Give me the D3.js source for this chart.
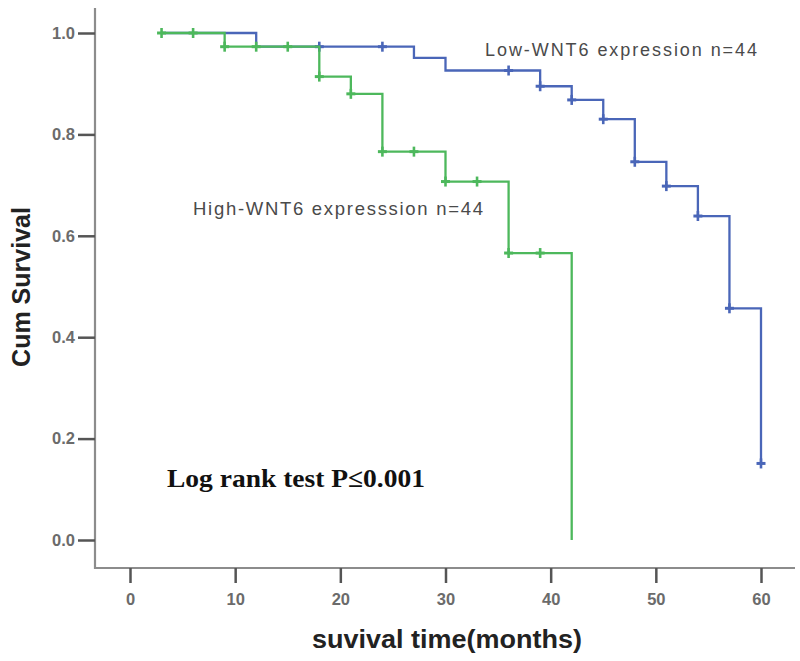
<!DOCTYPE html>
<html>
<head>
<meta charset="utf-8">
<script src="https://cdn.jsdelivr.net/npm/d3@7"></script>
<style>
  html, body { margin: 0; padding: 0; background: #fff; }
  svg { display: block; }
</style>
</head>
<body>
<svg id="chart" width="800" height="661"></svg>
<script>
// ---- data ----
const xTicks = [0, 10, 20, 30, 40, 50, 60];
const yTicks = [0.0, 0.2, 0.4, 0.6, 0.8, 1.0];

// Low-WNT6 (blue) step curve: event times and survival after each step
const lowTimes = [3, 12, 27, 30, 39, 42, 45, 48, 51, 54, 57, 60];
const lowSurv  = [1.0, 0.973, 0.951, 0.926, 0.895, 0.868, 0.830, 0.746, 0.698, 0.639, 0.457, 0.151];
// Low-WNT6 censor marks
const lowCensT = [18, 24, 36, 39, 42, 45, 48, 51, 54, 57, 60];
const lowCensS = [0.973, 0.973, 0.926, 0.895, 0.868, 0.830, 0.746, 0.698, 0.639, 0.457, 0.151];

// High-WNT6 (green) step curve
const highTimes = [3, 9, 18, 21, 24, 30, 36, 42];
const highSurv  = [1.0, 0.973, 0.914, 0.880, 0.766, 0.707, 0.566, 0.0];
// High-WNT6 censor marks
const highCensT = [3, 6, 9, 12, 15, 18, 21, 24, 27, 30, 33, 36, 39];
const highCensS = [1.0, 1.0, 0.973, 0.973, 0.973, 0.914, 0.880, 0.766, 0.766, 0.707, 0.707, 0.566, 0.566];

const lowLabel  = "Low-WNT6 expression n=44";
const highLabel = "High-WNT6 expresssion n=44";
const pLabel    = "Log rank test P\u22640.001";
const xTitle    = "suvival time(months)";
const yTitle    = "Cum Survival";

// ---- layout ----
const svg = d3.select("#chart");
const x = d3.scaleLinear().domain([0, 60]).range([130, 761]);
const y = d3.scaleLinear().domain([0, 1]).range([540, 33]);
const axisX0 = 95, axisY0 = 568;

const BLUE = "#4a66b8", GREEN = "#4db85c";

// axes lines
svg.append("line").attr("x1", axisX0).attr("x2", axisX0).attr("y1", 8).attr("y2", axisY0 + 1)
  .attr("stroke", "#8c8c8c").attr("stroke-width", 2.2);
svg.append("line").attr("x1", axisX0 - 1).attr("x2", 795).attr("y1", axisY0).attr("y2", axisY0)
  .attr("stroke", "#8c8c8c").attr("stroke-width", 2.2);

// y axis
const gy = svg.append("g").attr("transform", `translate(${axisX0},0)`)
  .call(d3.axisLeft(y).tickValues(yTicks).tickFormat(d3.format(".1f")).tickSize(17).tickPadding(3));
gy.select(".domain").remove();
gy.selectAll(".tick line").attr("stroke", "#555").attr("stroke-width", 2.5);
gy.selectAll(".tick text").attr("fill", "#6b6b6b").attr("font-family", "Liberation Sans, Arial, sans-serif")
  .attr("font-size", 16.5).attr("font-weight", "bold");

// x axis
const gx = svg.append("g").attr("transform", `translate(0,${axisY0})`)
  .call(d3.axisBottom(x).tickValues(xTicks).tickSize(15).tickPadding(10));
gx.select(".domain").remove();
gx.selectAll(".tick line").attr("stroke", "#555").attr("stroke-width", 2.5);
gx.selectAll(".tick text").attr("fill", "#6b6b6b").attr("font-family", "Liberation Sans, Arial, sans-serif")
  .attr("font-size", 16.5).attr("font-weight", "bold");

// titles
svg.append("text").attr("transform", "translate(30,287) rotate(-90)")
  .attr("text-anchor", "middle").attr("font-family", "Liberation Sans, Arial, sans-serif")
  .attr("font-weight", "bold").attr("font-size", 25).attr("fill", "#222").text(yTitle);
svg.append("text").attr("x", 447).attr("y", 648)
  .attr("text-anchor", "middle").attr("font-family", "Liberation Sans, Arial, sans-serif")
  .attr("font-weight", "bold").attr("font-size", 26).attr("fill", "#222")
  .attr("textLength", 270).attr("lengthAdjust", "spacingAndGlyphs").text(xTitle);

// curves
const line = d3.line().x(d => x(d[0])).y(d => y(d[1])).curve(d3.curveStepAfter);
const lowPts = lowTimes.map((t, i) => [t, lowSurv[i]]);
const highPts = highTimes.map((t, i) => [t, highSurv[i]]);

function marks(ts, ss, color) {
  const g = svg.append("g");
  ts.forEach((t, i) => {
    const cx = x(t), cy = y(ss[i]);
    g.append("line").attr("x1", cx).attr("x2", cx).attr("y1", cy - 5).attr("y2", cy + 5)
      .attr("stroke", color).attr("stroke-width", 2.6);
    g.append("line").attr("x1", cx - 4.5).attr("x2", cx + 4.5).attr("y1", cy).attr("y2", cy)
      .attr("stroke", color).attr("stroke-width", 3);
  });
}

svg.append("path").datum(lowPts).attr("d", line).attr("fill", "none")
  .attr("stroke", BLUE).attr("stroke-width", 2.3);
marks(lowCensT, lowCensS, BLUE);
svg.append("path").datum(highPts).attr("d", line).attr("fill", "none")
  .attr("stroke", GREEN).attr("stroke-width", 2.3);
marks(highCensT, highCensS, GREEN);

// annotations
svg.append("text").attr("x", 485).attr("y", 56)
  .attr("font-family", "Liberation Sans, Arial, sans-serif").attr("font-size", 18)
  .attr("fill", "#4a4a4a").attr("textLength", 272).attr("lengthAdjust", "spacing").text(lowLabel);
svg.append("text").attr("x", 193).attr("y", 215)
  .attr("font-family", "Liberation Sans, Arial, sans-serif").attr("font-size", 18.5)
  .attr("fill", "#4a4a4a").attr("textLength", 290).attr("lengthAdjust", "spacing").text(highLabel);
svg.append("text").attr("x", 167).attr("y", 486.5)
  .attr("font-family", "Liberation Serif, Times New Roman, serif").attr("font-size", 26)
  .attr("font-weight", "bold").attr("fill", "#111")
  .attr("textLength", 258).attr("lengthAdjust", "spacingAndGlyphs").text(pLabel);
</script>
</body>
</html>
